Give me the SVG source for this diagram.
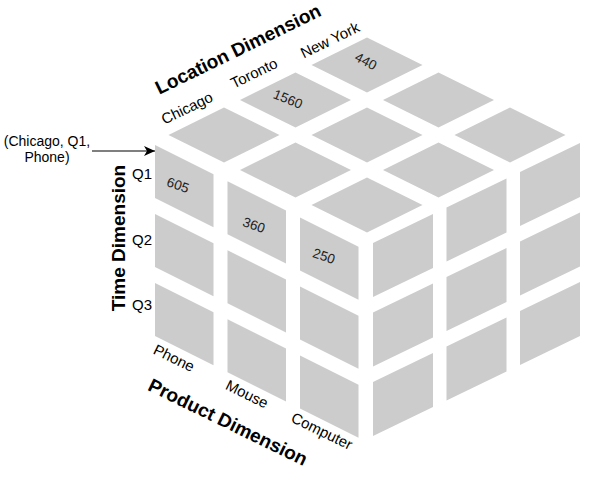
<svg xmlns="http://www.w3.org/2000/svg" xmlns:xlink="http://www.w3.org/1999/xlink" width="605" height="482" viewBox="0 0 605 482">
<style>
.cell{fill:#cccccc;stroke:none}
text{font-family:"Liberation Sans",Arial,sans-serif;fill:#000000}
.lbl{font-size:15px}
.num{font-size:13.5px;fill:#222222}
.dim{font-size:19px;font-weight:bold}
.note{font-size:14px}
.conn{stroke:#000000;stroke-width:1.2;fill:none}
</style>
<defs>
<path id="lc" d="M0,0 l58.5,29.25 v53 l-58.5,-29.25z"/>
<path id="rc" d="M0,0 l60,-29 v54 l-60,29z"/>
<path id="tc" d="M-55.5,0 L0,-27.5 L55.5,0 L0,27.5z"/>
<marker id="arr" markerWidth="12" markerHeight="10" refX="11" refY="5" orient="auto" markerUnits="userSpaceOnUse">
<path d="M0,0 L11,5 L0,10 L3,5z" fill="#000000"/>
</marker>
</defs>
<g id="top-face">
<use class="cell" xlink:href="#tc" href="#tc" x="367" y="205"/>
<use class="cell" xlink:href="#tc" href="#tc" x="438.5" y="170"/>
<use class="cell" xlink:href="#tc" href="#tc" x="510" y="135"/>
<use class="cell" xlink:href="#tc" href="#tc" x="295.5" y="170"/>
<use class="cell" xlink:href="#tc" href="#tc" x="367" y="135"/>
<use class="cell" xlink:href="#tc" href="#tc" x="438.5" y="100"/>
<use class="cell" xlink:href="#tc" href="#tc" x="224" y="135"/>
<use class="cell" xlink:href="#tc" href="#tc" x="295.5" y="100"/>
<use class="cell" xlink:href="#tc" href="#tc" x="367" y="65"/>
</g>
<g id="left-face">
<use class="cell" xlink:href="#lc" href="#lc" x="155" y="145"/>
<use class="cell" xlink:href="#lc" href="#lc" x="155" y="214"/>
<use class="cell" xlink:href="#lc" href="#lc" x="155" y="283"/>
<use class="cell" xlink:href="#lc" href="#lc" x="227.5" y="181.25"/>
<use class="cell" xlink:href="#lc" href="#lc" x="227.5" y="250.25"/>
<use class="cell" xlink:href="#lc" href="#lc" x="227.5" y="319.25"/>
<use class="cell" xlink:href="#lc" href="#lc" x="300" y="217.5"/>
<use class="cell" xlink:href="#lc" href="#lc" x="300" y="286.5"/>
<use class="cell" xlink:href="#lc" href="#lc" x="300" y="355.5"/>
</g>
<g id="right-face">
<use class="cell" xlink:href="#rc" href="#rc" x="373" y="243"/>
<use class="cell" xlink:href="#rc" href="#rc" x="373" y="312.5"/>
<use class="cell" xlink:href="#rc" href="#rc" x="373" y="382"/>
<use class="cell" xlink:href="#rc" href="#rc" x="446.5" y="207.5"/>
<use class="cell" xlink:href="#rc" href="#rc" x="446.5" y="277"/>
<use class="cell" xlink:href="#rc" href="#rc" x="446.5" y="346.5"/>
<use class="cell" xlink:href="#rc" href="#rc" x="520" y="172"/>
<use class="cell" xlink:href="#rc" href="#rc" x="520" y="241.5"/>
<use class="cell" xlink:href="#rc" href="#rc" x="520" y="311"/>
</g>
<g id="values" text-anchor="middle">
<text class="num" transform="translate(178,185) rotate(19)" dy="0.35em">605</text>
<text class="num" transform="translate(254,225) rotate(19)" dy="0.35em">360</text>
<text class="num" transform="translate(324,256) rotate(19)" dy="0.35em">250</text>
<text class="num" transform="translate(288,99) rotate(22)" dy="0.35em">1560</text>
<text class="num" transform="translate(366,61) rotate(28)" dy="0.35em">440</text>
</g>
<g id="location-labels" text-anchor="middle">
<text class="dim" transform="translate(238,49) rotate(-26)" dy="0.35em">Location Dimension</text>
<text class="lbl" transform="translate(187,108) rotate(-26)" dy="0.35em">Chicago</text>
<text class="lbl" transform="translate(254,73) rotate(-26)" dy="0.35em">Toronto</text>
<text class="lbl" transform="translate(330,40) rotate(-26)" dy="0.35em">New York</text>
</g>
<g id="time-labels" text-anchor="middle">
<text class="dim" transform="translate(118,238) rotate(-90)" dy="0.35em">Time Dimension</text>
<text class="lbl" x="142" y="174" dy="0.35em">Q1</text>
<text class="lbl" x="142" y="240" dy="0.35em">Q2</text>
<text class="lbl" x="142" y="305" dy="0.35em">Q3</text>
</g>
<g id="product-labels" text-anchor="middle">
<text class="lbl" transform="translate(174,358) rotate(26)" dy="0.35em">Phone</text>
<text class="lbl" transform="translate(247,394) rotate(26)" dy="0.35em">Mouse</text>
<text class="lbl" transform="translate(322,431) rotate(26)" dy="0.35em">Computer</text>
<text class="dim" transform="translate(228,422) rotate(26)" dy="0.35em">Product Dimension</text>
</g>
<g id="tuple-note" text-anchor="middle">
<text class="note" x="47" y="146">(Chicago, Q1,</text>
<text class="note" x="47" y="162">Phone)</text>
</g>
<g id="connectors">
<path class="conn" d="M92,151 L155,151" marker-end="url(#arr)"/>
</g>
</svg>
